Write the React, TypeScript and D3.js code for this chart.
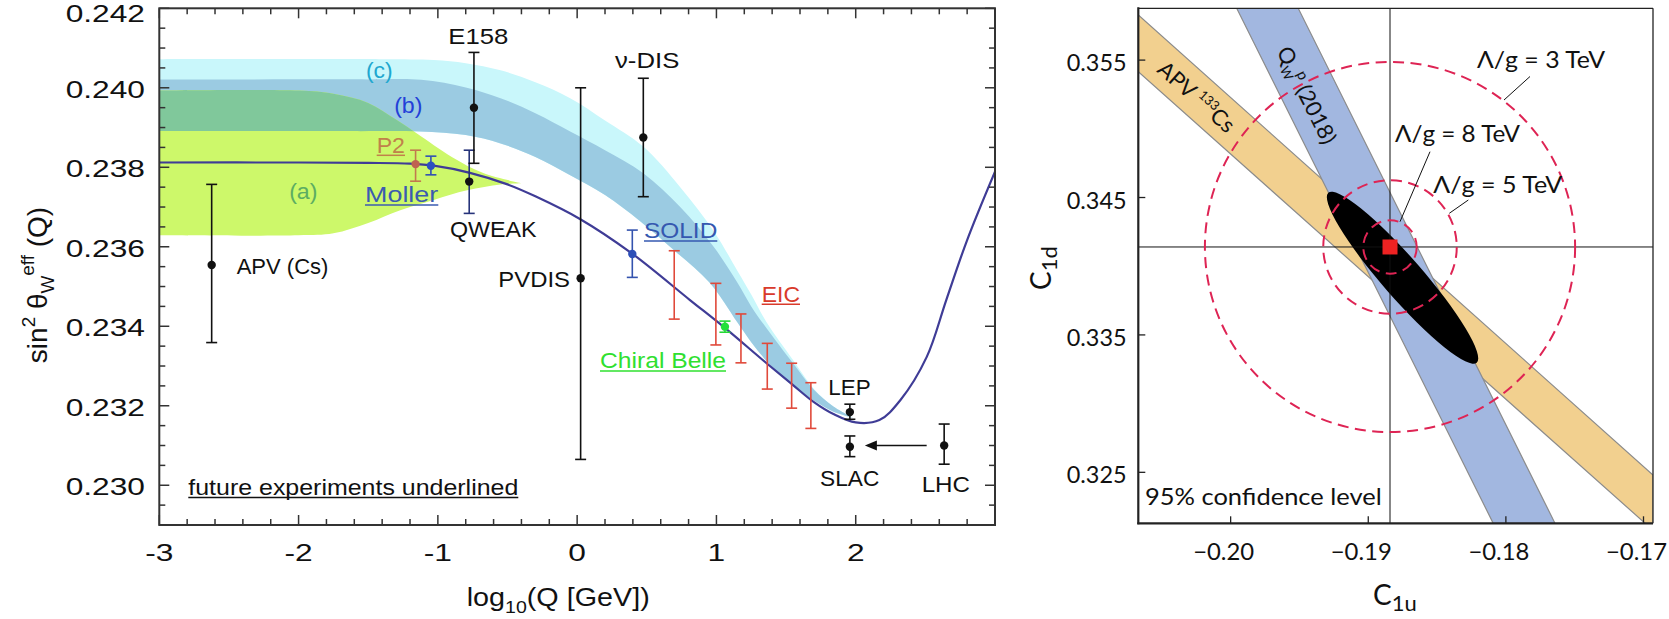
import React from "react";
import * as d3 from "d3";

type P = [number, number];

// ---------------- Left panel data: running of sin^2 theta_W ----------------
const leftXTicks = [-3, -2, -1, 0, 1, 2];
const leftYTicks = [0.23, 0.232, 0.234, 0.236, 0.238, 0.24, 0.242];

const smCurve: P[] = [
  [-3, 0.23812], [-2, 0.23812], [-1.5, 0.23811], [-1.2, 0.23809], [-1.03, 0.23804],
  [-0.77, 0.23786], [-0.5, 0.23757], [-0.3, 0.23727], [0.02, 0.2367], [0.39, 0.23584],
  [0.81, 0.23466], [1.05, 0.23399], [1.36, 0.23307], [1.55, 0.23252], [1.7, 0.23209],
  [1.84, 0.23179], [2.0, 0.23158], [2.17, 0.23164], [2.32, 0.23214], [2.51, 0.23323],
  [2.65, 0.23466], [2.8, 0.23617], [3.0, 0.23789],
];

// shared lower edge of bands (b) and (c)
const bcLower: P[] = [
  [-3, 0.23891], [-1.6, 0.23891], [-1.13, 0.2389], [-0.8, 0.23881], [-0.55, 0.2386],
  [-0.3, 0.23826], [-0.05, 0.2378], [0.2, 0.2373], [0.45, 0.23665], [0.7, 0.2359],
  [0.95, 0.2351], [1.15, 0.2341], [1.25, 0.2336], [1.38, 0.23305], [1.55, 0.2325],
  [1.7, 0.23213], [1.84, 0.23185], [1.98, 0.2317],
];
const bUpper: P[] = [
  [-3, 0.24021], [-1.5, 0.24021], [-1.12, 0.2402], [-0.8, 0.24001], [-0.55, 0.23974],
  [-0.3, 0.23936], [-0.05, 0.2389], [0.2, 0.23843], [0.475, 0.23785], [0.74, 0.237],
  [0.98, 0.236], [1.15, 0.2351], [1.25, 0.2345], [1.36, 0.23395], [1.55, 0.23307],
  [1.7, 0.2324], [1.84, 0.23198], [1.98, 0.2317],
];
const cUpper: P[] = [
  [-3, 0.24072], [-1.4, 0.24072], [-1.03, 0.2407], [-0.8, 0.24062], [-0.55, 0.24044],
  [-0.3, 0.24014], [-0.05, 0.23974], [0.2, 0.23918], [0.475, 0.23852], [0.74, 0.2375],
  [0.98, 0.2364], [1.15, 0.2354], [1.25, 0.2348], [1.36, 0.2341], [1.55, 0.23315],
  [1.7, 0.23242], [1.84, 0.23198], [1.98, 0.2317],
];
const aUpper: P[] = [
  [-3, 0.23993], [-2.0, 0.23993], [-1.75, 0.23985], [-1.5, 0.23962], [-1.3, 0.2392],
  [-1.15, 0.23885], [-0.9, 0.23826], [-0.67, 0.23785], [-0.4, 0.2376],
];
const aLower: P[] = [
  [-3, 0.23629], [-2.0, 0.23629], [-1.75, 0.23634], [-1.5, 0.2366], [-1.27, 0.23692],
  [-1.03, 0.23718], [-0.79, 0.23742], [-0.55, 0.23757], [-0.4, 0.2376],
];

// existing measurements (black)
const pastNames = ["APV (Cs)", "QWEAK", "E158", "PVDIS", "ν-DIS", "LEP", "SLAC", "LHC"];
const pastQ = [-2.624, -0.775, -0.741, 0.025, 0.475, 1.958, 1.958, 2.635];
const pastS = [0.23554, 0.23764, 0.2395, 0.23521, 0.23875, 0.23184, 0.23097, 0.231];
const pastLo = [0.23359, 0.23684, 0.2381, 0.23065, 0.23726, 0.23166, 0.23072, 0.23053];
const pastHi = [0.23757, 0.23843, 0.24089, 0.24, 0.24024, 0.23204, 0.23124, 0.23154];

// future experiments
const futureNames = ["P2", "Moller", "SOLID", "Chiral Belle"];
const futureQ = [-1.16, -1.05, 0.396, 1.061];
const futureS = [0.23808, 0.23804, 0.23582, 0.23399];
const futureLo = [0.23765, 0.23781, 0.23523, 0.23385];
const futureHi = [0.23843, 0.23828, 0.23642, 0.23413];

const eicQ = [0.697, 0.996, 1.176, 1.365, 1.54, 1.678];
const eicLo = [0.23418, 0.23353, 0.23308, 0.23242, 0.23194, 0.23143];
const eicHi = [0.2359, 0.23508, 0.23431, 0.23357, 0.23307, 0.23258];

// ---------------- Right panel data: C1u vs C1d ----------------
const rightXTicks = [-0.2, -0.19, -0.18, -0.17];
const rightYTicks = [0.325, 0.335, 0.345, 0.355];
const apvUpperEdge: P[] = [[-0.20671, 0.35828], [-0.16931, 0.3248]];
const apvLowerEdge: P[] = [[-0.20671, 0.35415], [-0.16931, 0.32078]];
const qwLeftEdge: P[] = [[-0.19956, 0.35877], [-0.18092, 0.32129]];
const qwRightEdge: P[] = [[-0.19509, 0.35877], [-0.17643, 0.32129]];
const smC1u = -0.18842;
const smC1d = 0.3414;
const fitC1u = -0.18751;
const fitC1d = 0.33916;
const fitSemiMajor = 0.0082;
const fitSemiMinor = 0.00146;
const fitAngleDeg = 48.9;
const lambdaTeV = [3, 5, 8];
const lambdaRadius = [0.01345, 0.00485, 0.00194];

// ---------------- styles ----------------
const hel = "'Liberation Sans', Arial, Helvetica, sans-serif";
const myr = "Lato, 'Open Sans', sans-serif";

function ErrBar(props: { x: number; y?: number; lo: number; hi: number; color: string; dotColor?: string; cap?: number; r?: number }) {
  const { x, y, lo, hi, color, dotColor, cap = 5.5, r = 4.2 } = props;
  return (
    <g>
      <line x1={x} x2={x} y1={lo} y2={hi} stroke={color} strokeWidth={1.6} />
      <line x1={x - cap} x2={x + cap} y1={lo} y2={lo} stroke={color} strokeWidth={1.6} />
      <line x1={x - cap} x2={x + cap} y1={hi} y2={hi} stroke={color} strokeWidth={1.6} />
      {y !== undefined && <circle cx={x} cy={y} r={r} fill={dotColor || color} />}
    </g>
  );
}

export default function App() {
  const W = 1669;
  const H = 619;

  // left scales
  const L = { x0: 159.3, x1: 995, y0: 8.3, y1: 525 };
  const xL = d3.scaleLinear().domain([-3, 3]).range([L.x0, L.x1]);
  const yL = d3.scaleLinear().domain([0.229, 0.242]).range([L.y1, L.y0]);
  const edge = d3
    .line<P>()
    .x((d) => xL(d[0]))
    .y((d) => yL(d[1]))
    .curve(d3.curveCatmullRom.alpha(0.5));
  const band = (upper: P[], lower: P[]) =>
    (edge(upper) as string) + (edge(lower.slice().reverse()) as string).replace(/^M/, "L") + "Z";

  const xMinor = d3.range(-3, 3.0001, 0.2);
  const yMinor = d3.range(0.229, 0.24201, 0.0005);
  const isMajorX = (v: number) => Math.abs(v - Math.round(v)) < 1e-6;
  const isMajorY = (v: number) => Math.abs(v * 500 - Math.round(v * 500)) < 1e-6;

  // right scales
  const R = { x0: 1138.3, x1: 1653, y0: 8.3, y1: 523.3 };
  const xR = d3.scaleLinear().domain([-0.20671, -0.16931]).range([R.x0, R.x1]);
  const yR = d3.scaleLinear().domain([0.32129, 0.35877]).range([R.y1, R.y0]);
  const seg = (a: P[], b: P[]) => {
    const pts = [a[0], a[1], b[1], b[0]];
    return "M" + pts.map((p) => `${xR(p[0])},${yR(p[1])}`).join("L") + "Z";
  };
  const sx = xR(smC1u);
  const sy = yR(smC1d);
  const fx = xR(fitC1u);
  const fy = yR(fitC1d);
  const rx = xR(fitC1u + fitSemiMajor) - fx;
  const ry = xR(fitC1u + fitSemiMinor) - fx;

  const leftTickSize = 23.5;
  const stretch = 1.35;

  const pastColor = (i: number) => (pastNames[i] === "QWEAK" ? "#26337a" : "#111");
  const futureColors = ["#c27a4e", "#3050b4", "#3453ae", "#25d936"];
  const futureDot = ["#bf6250", "#2c50c0", "#2d4fb8", "#22e03a"];

  const leftLabels = [
    { t: "E158", x: 478.3, y: 44.3, w: 60, a: "middle", c: "#111" },
    { t: "QWEAK", x: 493.3, y: 237.3, w: 86.7, a: "middle", c: "#111" },
    { t: "APV (Cs)", x: 236.7, y: 274, w: 91.7, a: "start", c: "#111" },
    { t: "PVDIS", x: 570, y: 287.3, w: 71.7, a: "end", c: "#111" },
    { t: "ν-DIS", x: 615, y: 67.7, w: 64.3, a: "start", c: "#111" },
    { t: "LEP", x: 828.3, y: 395, w: 42.4, a: "start", c: "#111" },
    { t: "SLAC", x: 820, y: 486, w: 59.3, a: "start", c: "#111" },
    { t: "LHC", x: 921.7, y: 491.7, w: 48.3, a: "start", c: "#111" },
    { t: "(c)", x: 379.3, y: 78.3, w: 26.7, a: "middle", c: "#20a7cf" },
    { t: "(b)", x: 408.3, y: 113.3, w: 28.3, a: "middle", c: "#2340d8" },
    { t: "(a)", x: 303.3, y: 199.3, w: 28.3, a: "middle", c: "#5cad62" },
  ];
  const underLabels = [
    { t: "P2", x: 376.7, y: 152.7, w: 28.3, c: "#c0824a" },
    { t: "Moller", x: 365, y: 202.3, w: 73.3, c: "#3b5bb0" },
    { t: "SOLID", x: 644, y: 238.3, w: 73.3, c: "#3558b0" },
    { t: "EIC", x: 761.7, y: 301.7, w: 38.3, c: "#d93a2b" },
    { t: "Chiral Belle", x: 600, y: 368.3, w: 126, c: "#2fe02f" },
    { t: "future experiments underlined", x: 188.3, y: 495, w: 330, c: "#111" },
  ];

  const lambdaText = [
    { x: 1477, y: 68.3, w: 128, lx1: 1504, ly1: 100, lx2: 1530, ly2: 76.5 },
    { x: 1433.3, y: 193.3, w: 129, lx1: 1449.3, ly1: 213.3, lx2: 1468.3, ly2: 200 },
    { x: 1395, y: 141.7, w: 125, lx1: 1400, ly1: 221.7, lx2: 1430, ly2: 151.7 },
  ];

  const fmtR = (v: number) => (v < 0 ? "\u2212" : "") + Math.abs(v).toFixed(2);

  return (
    <svg
      width={W}
      height={H}
      viewBox={`0 0 ${W} ${H}`}
      style={{ position: "absolute", left: 0, top: 0, background: "#fff" }}
    >
      <defs>
        <clipPath id="clipL">
          <rect x={L.x0} y={L.y0} width={L.x1 - L.x0} height={L.y1 - L.y0} />
        </clipPath>
        <clipPath id="clipB">
          <path d={band(bUpper, bcLower)} />
        </clipPath>
        <clipPath id="clipR">
          <rect x={R.x0} y={R.y0} width={R.x1 - R.x0} height={R.y1 - R.y0} />
        </clipPath>
      </defs>
      <rect x={0} y={0} width={W} height={H} fill="#fff" />

      {/* ================= LEFT PANEL ================= */}
      <g clipPath="url(#clipL)">
        <path d={band(cUpper, bcLower)} fill="#c9f7fb" />
        <path d={band(bUpper, bcLower)} fill="#9bcbe2" />
        <path d={band(aUpper, aLower)} fill="#cdf86a" />
        <g clipPath="url(#clipB)">
          <path d={band(aUpper, aLower)} fill="#80c89b" />
        </g>
        <path d={edge(smCurve) as string} fill="none" stroke="#3f3c96" strokeWidth={2.2} />
      </g>

      {/* measurements */}
      {pastQ.map((q, i) => (
        <ErrBar key={"p" + i} x={xL(q)} y={yL(pastS[i])} lo={yL(pastLo[i])} hi={yL(pastHi[i])} color={pastColor(i)} dotColor="#111" />
      ))}
      {futureQ.map((q, i) => (
        <ErrBar key={"f" + i} x={xL(q)} y={yL(futureS[i])} lo={yL(futureLo[i])} hi={yL(futureHi[i])} color={futureColors[i]} dotColor={futureDot[i]} />
      ))}
      {eicQ.map((q, i) => (
        <ErrBar key={"e" + i} x={xL(q)} lo={yL(eicLo[i])} hi={yL(eicHi[i])} color="#e0493a" />
      ))}
      {/* LHC -> SLAC arrow */}
      <line x1={xL(pastQ[7]) - 17.5} x2={xL(pastQ[6]) + 24} y1={yL(pastS[7])} y2={yL(pastS[7])} stroke="#111" strokeWidth={1.6} />
      <path
        d={`M${xL(pastQ[6]) + 15},${yL(pastS[7])}L${xL(pastQ[6]) + 27},${yL(pastS[7]) - 5}L${xL(pastQ[6]) + 27},${yL(pastS[7]) + 5}Z`}
        fill="#111"
      />

      {/* left frame ticks */}
      <g stroke="#333" strokeWidth={1.5}>
        {xMinor.map((v, i) => {
          const len = isMajorX(v) ? 10 : 6;
          return (
            <g key={"xt" + i}>
              <line x1={xL(v)} x2={xL(v)} y1={L.y1} y2={L.y1 - len} />
              <line x1={xL(v)} x2={xL(v)} y1={L.y0} y2={L.y0 + len} />
            </g>
          );
        })}
        {yMinor.map((v, i) => {
          const len = isMajorY(v) ? 10 : 6;
          return (
            <g key={"yt" + i}>
              <line x1={L.x0} x2={L.x0 + len} y1={yL(v)} y2={yL(v)} />
              <line x1={L.x1} x2={L.x1 - len} y1={yL(v)} y2={yL(v)} />
            </g>
          );
        })}
      </g>
      <rect x={L.x0} y={L.y0} width={L.x1 - L.x0} height={L.y1 - L.y0} fill="none" stroke="#333" strokeWidth={2} />

      {/* left tick labels */}
      <g fontFamily={hel} fontSize={leftTickSize} fill="#111">
        {leftXTicks.map((v) => (
          <text key={"xl" + v} transform={`translate(${xL(v)},560.5) scale(${stretch},1)`} textAnchor="middle">
            {String(v)}
          </text>
        ))}
        {leftYTicks.map((v) => (
          <text key={"yl" + v} transform={`translate(145,${Math.max(yL(v) + 10, 21.5)}) scale(${stretch},1)`} textAnchor="end">
            {v.toFixed(3)}
          </text>
        ))}
      </g>

      {/* left axis titles */}
      <text transform="translate(466.7,606) scale(1.15,1)" fontFamily={hel} fontSize={25} fill="#111">
        log<tspan fontSize={17} dy={7}>10</tspan>
        <tspan dy={-7}>(Q [GeV])</tspan>
      </text>
      <text transform="translate(47,285) rotate(-90)" fontFamily={hel} fontSize={28} fill="#111" textAnchor="middle">
        sin<tspan fontSize={19} dy={-12}>2</tspan>
        <tspan dy={12}> θ</tspan>
        <tspan fontSize={19} dy={7}>W</tspan>
        <tspan fontSize={19} dy={-20}>eff</tspan>
        <tspan dy={13}> (Q)</tspan>
      </text>

      {/* left annotations */}
      <g fontFamily={hel} fontSize={22}>
        {leftLabels.map((l) => (
          <text key={l.t} x={l.x} y={l.y} fill={l.c} textAnchor={l.a as any} textLength={l.w} lengthAdjust="spacingAndGlyphs">
            {l.t}
          </text>
        ))}
        {underLabels.map((l) => (
          <g key={l.t}>
            <text x={l.x} y={l.y} fill={l.c} textLength={l.w} lengthAdjust="spacingAndGlyphs">
              {l.t}
            </text>
            <line x1={l.x} x2={l.x + l.w} y1={l.y + 2.6} y2={l.y + 2.6} stroke={l.c} strokeWidth={1.5} />
          </g>
        ))}
      </g>

      {/* ================= RIGHT PANEL ================= */}
      <g clipPath="url(#clipR)">
        <path d={seg(apvUpperEdge, apvLowerEdge)} fill="#f2d08f" stroke="#8c8c8c" strokeWidth={1.2} />
        <path d={seg(qwLeftEdge, qwRightEdge)} fill="#a2b7e0" stroke="#8c8c8c" strokeWidth={1.2} />
        <ellipse cx={fx} cy={fy} rx={rx} ry={ry} transform={`rotate(${fitAngleDeg} ${fx} ${fy})`} fill="#000" />
        <line x1={sx} x2={sx} y1={R.y0} y2={R.y1} stroke="#111" strokeWidth={1} />
        <line x1={R.x0} x2={R.x1} y1={sy} y2={sy} stroke="#111" strokeWidth={1} />
        {lambdaRadius.map((r, i) => (
          <circle
            key={"c" + lambdaTeV[i]}
            cx={sx}
            cy={sy}
            r={xR(smC1u + r) - sx}
            fill="none"
            stroke="#de2454"
            strokeWidth={2}
            strokeDasharray="11 6.5"
          />
        ))}
        <rect x={sx - 7.5} y={sy - 7.5} width={15} height={15} fill="#ee2222" />
      </g>

      {/* right frame */}
      <g stroke="#222">
        <line x1={R.x0} x2={R.x1} y1={R.y0} y2={R.y0} strokeWidth={1.3} />
        <line x1={R.x1} x2={R.x1} y1={R.y0} y2={R.y1} strokeWidth={1.3} />
        <line x1={R.x0} x2={R.x0} y1={R.y0 - 1} y2={R.y1 + 1} strokeWidth={2.2} />
        <line x1={R.x0 - 1} x2={R.x1} y1={R.y1} y2={R.y1} strokeWidth={2.2} />
        {rightXTicks.map((v) => (
          <line key={"rx" + v} x1={xR(v)} x2={xR(v)} y1={R.y1} y2={R.y1 - 7} strokeWidth={1.3} />
        ))}
        {rightYTicks.map((v) => (
          <line key={"ry" + v} x1={R.x0} x2={R.x0 + 7} y1={yR(v)} y2={yR(v)} strokeWidth={1.3} />
        ))}
      </g>

      <g fontFamily={myr} fontSize={24} fill="#111">
        {rightXTicks.map((v) => (
          <text key={"rxl" + v} x={xR(v) - 7} y={560} textAnchor="middle" textLength={61} lengthAdjust="spacingAndGlyphs">
            {fmtR(v)}
          </text>
        ))}
        {rightYTicks.map((v) => (
          <text key={"ryl" + v} x={1126.7} y={yR(v) + 11} textAnchor="end" textLength={60} lengthAdjust="spacingAndGlyphs">
            {v.toFixed(3)}
          </text>
        ))}
        {lambdaText.map((l, i) => (
          <g key={"lt" + i}>
            <text x={l.x} y={l.y} textLength={l.w} lengthAdjust="spacingAndGlyphs">
              {`Λ/g = ${lambdaTeV[i]} TeV`}
            </text>
            <line x1={l.lx1} y1={l.ly1} x2={l.lx2} y2={l.ly2} stroke="#111" strokeWidth={1} />
          </g>
        ))}
        <text x={1145} y={505} textLength={236.7} lengthAdjust="spacingAndGlyphs">
          95% confidence level
        </text>
        <text transform="translate(1196.7,96.7) rotate(41.7)" textAnchor="middle" fontSize={22}>
          <tspan dy={8}>APV </tspan>
          <tspan fontSize={13} dy={-9}>133</tspan>
          <tspan dy={9}>Cs</tspan>
        </text>
        <text transform="translate(1307,95) rotate(63.5)" textAnchor="middle" fontSize={22}>
          <tspan dy={8}>Q</tspan>
          <tspan fontSize={13} dy={5}>W</tspan>
          <tspan fontSize={15} dy={-13} dx={-2}>p</tspan>
          <tspan dy={8}> (2018)</tspan>
        </text>
        {/* axis titles */}
        <text x={1373} y={605} fontSize={28}>
          C<tspan fontSize={22} dy={6}>1u</tspan>
        </text>
        <text transform="translate(1051,290) rotate(-90)" fontSize={28}>
          C<tspan fontSize={22} dy={6}>1d</tspan>
        </text>
      </g>
    </svg>
  );
}
